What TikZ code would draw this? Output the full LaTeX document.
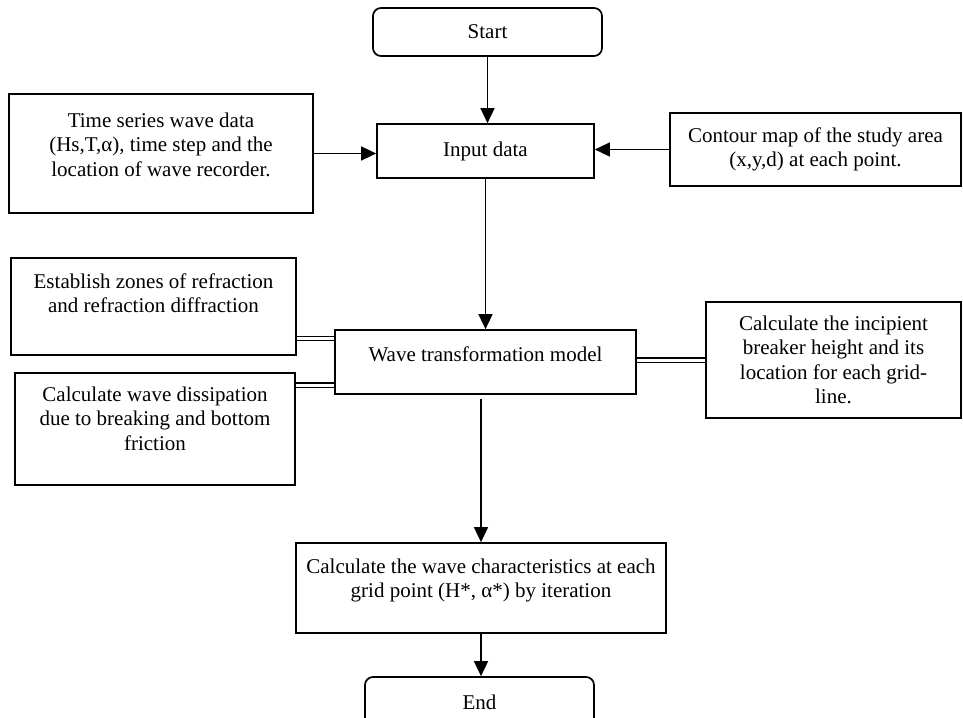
\documentclass[tikz,border=0pt]{standalone}
\usepackage{fontspec}
\setmainfont{Liberation Serif}
\usetikzlibrary{arrows.meta,calc}
\newcommand{\toptxt}[4]{\parbox[c][#1][t]{#2}{\centering\vspace*{#3}\strut #4}}
\begin{document}
\begin{tikzpicture}[x=1pt,y=-1pt,
	every node/.style={font=\fontsize{21}{24.5}\selectfont},
	box/.style={draw,line width=1.7pt,align=center,inner sep=0pt},
	term/.style={box,rounded corners=8pt},
	arr/.style={line width=1.6pt,-{Triangle[length=15pt,width=14pt]}},
	dbl/.style={line width=1.4pt,double,double distance=3pt}]
	\useasboundingbox (0,0) rectangle (963,717);
	
	\node[term,minimum width=229pt,minimum height=48pt] (start) at (487.5,32) {Start};
	\node[box,minimum width=217pt,minimum height=54pt] (input) at (485.5,151) {Input data};
	\node[box] (series) at (161,153.5) {\toptxt{119pt}{304pt}{16pt}{Time series wave data\\(Hs,T,α), time step and the\\location of wave recorder.}};
	\node[box,minimum width=291pt,minimum height=73pt] (contour) at (815.5,149.5) {Contour map of the study area\\(x,y,d) at each point.};
	
	\node[box] (wave) at (485.5,362) {\toptxt{64pt}{301pt}{14pt}{Wave transformation model}};
	\node[box] (zones) at (153.5,306.5) {\toptxt{97pt}{285pt}{13pt}{Establish zones of refraction\\and refraction diffraction}};
	\node[box] (dissip) at (155,429) {\toptxt{112pt}{280pt}{11pt}{Calculate wave dissipation\\due to breaking and bottom\\friction}};
	\node[box,minimum width=255pt,minimum height=116pt] (incip) at (833.5,360) {Calculate the incipient\\breaker height and its\\location for each grid-\\line.};
	
	\node[box] (calcw) at (481,588) {\toptxt{90pt}{370pt}{13pt}{Calculate the wave characteristics at each\\grid point (H*, α*) by iteration}};
	\node[term,minimum width=229pt,minimum height=50pt] (end) at (479.5,702) {End};
	
	\draw[arr] (start.south) -- (start.south |- input.north);
	\draw[arr] (series.east) -- (input.west |- series.east);
	\draw[arr] (contour.west) -- (input.east |- contour.west);
	\draw[arr] (input.south) -- (input.south |- wave.north);
	\draw[dbl] (zones.east |- 0,338.5) -- (wave.west |- 0,338.5);
	\draw[dbl] (dissip.east |- 0,385) -- (wave.west |- 0,385);
	\draw[dbl] (wave.east |- 0,360) -- (incip.west |- 0,360);
	\draw[arr] ($(calcw.north |- wave.south)+(0,4)$) -- (calcw.north);
	\draw[arr] (calcw.south) -- (calcw.south |- end.north);
\end{tikzpicture}
\end{document}
